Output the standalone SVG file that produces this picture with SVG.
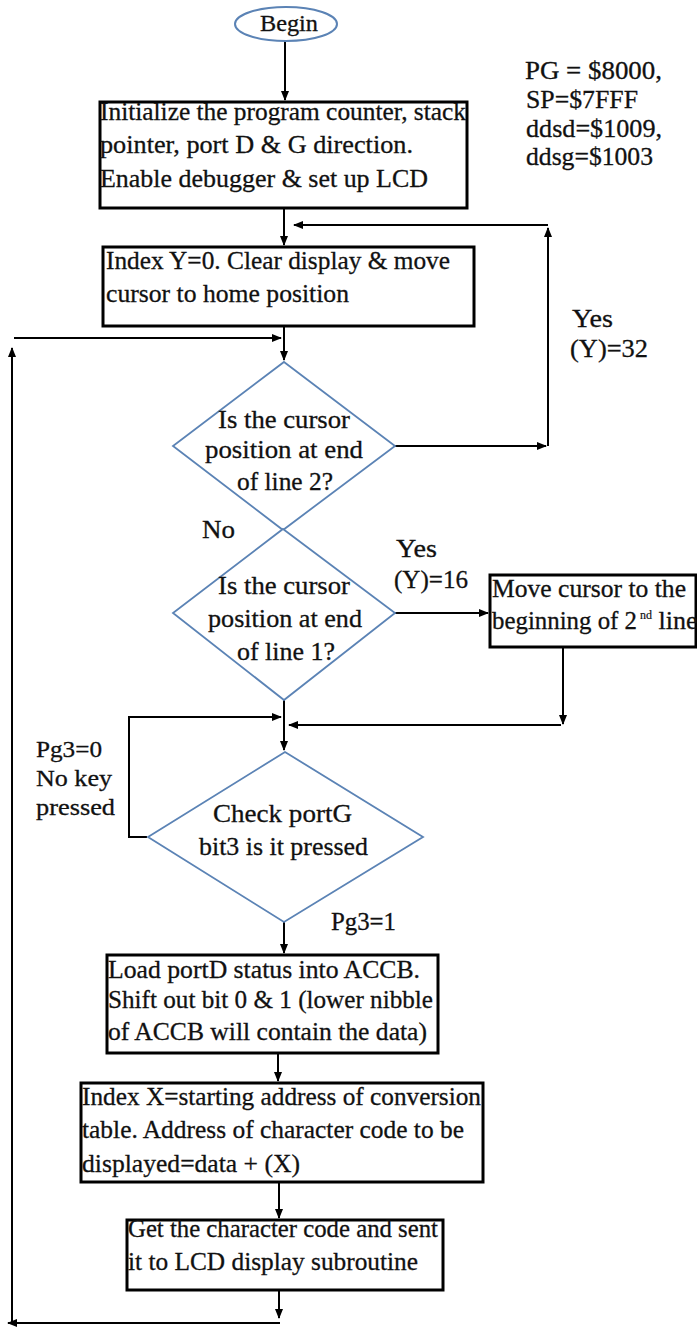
<svg xmlns="http://www.w3.org/2000/svg" width="697" height="1328" viewBox="0 0 697 1328">
<defs>
<marker id="ah" markerWidth="10" markerHeight="8" refX="9" refY="4" orient="auto" markerUnits="userSpaceOnUse"><path d="M0,0 L10,4 L0,8 Z" fill="#000"/></marker>
<style>
text { font-family: "Liberation Serif", "Times New Roman", serif; font-size: 26px; fill: #111; stroke: #111; stroke-width: 0.3; }
.box { fill: #fff; stroke: #000; stroke-width: 3; }
.dec { fill: #fff; stroke: #5b83b5; stroke-width: 1.8; }
.con { fill: none; stroke: #000; stroke-width: 2; }
.arr { marker-end: url(#ah); }
.lbl { font-size: 24px; }
.beg { font-size: 24px; }
.sup { font-size: 12px; stroke-width: 0.2; }
</style>
</defs>
<rect width="697" height="1328" fill="#fff"/>

<g id="connectors">
<path class="con arr" d="M285,41 V100"/>
<path class="con arr" d="M284,209 V245"/>
<path class="con arr" d="M284,326 V360"/>
<path class="con arr" d="M395,446 H546"/>
<path class="con arr" d="M548,446 V228"/>
<path class="con arr" d="M548,225 H294"/>
<path class="con arr" d="M14,338 H281"/>
<path class="con arr" d="M12,1323 V348"/>
<path class="con arr" d="M395,613 H488"/>
<path class="con arr" d="M563,647 V724"/>
<path class="con arr" d="M561,725 H289"/>
<path class="con arr" d="M147,837 H129 V717 H281"/>
<path class="con arr" d="M284,700 V750"/>
<path class="con arr" d="M284,922 V953"/>
<path class="con arr" d="M278,1053 V1081"/>
<path class="con arr" d="M279,1182 V1218"/>
<path class="con arr" d="M279,1290 V1318"/>
<path class="con arr" d="M280,1323 H8"/>
</g>

<g id="begin">
<ellipse cx="286" cy="24" rx="51" ry="17" fill="#fff" stroke="#5b83b5" stroke-width="2"/>
<text class="beg" x="260" y="31" textLength="58" lengthAdjust="spacingAndGlyphs">Begin</text>
</g>

<g id="init">
<rect class="box" x="100" y="102" width="367" height="106"/>
<text x="100" y="120" textLength="366" lengthAdjust="spacingAndGlyphs">Initialize the program counter, stack</text>
<text x="100" y="153" textLength="313" lengthAdjust="spacingAndGlyphs">pointer, port D &amp; G direction.</text>
<text x="100" y="187" textLength="328" lengthAdjust="spacingAndGlyphs">Enable debugger &amp; set up LCD</text>
</g>

<g id="note">
<text x="525" y="79" textLength="137" lengthAdjust="spacingAndGlyphs">PG = $8000,</text>
<text x="526" y="108" textLength="112" lengthAdjust="spacingAndGlyphs">SP=$7FFF</text>
<text x="526" y="137" textLength="136" lengthAdjust="spacingAndGlyphs">ddsd=$1009,</text>
<text x="526" y="165" textLength="127" lengthAdjust="spacingAndGlyphs">ddsg=$1003</text>
</g>

<g id="clear">
<rect class="box" x="103" y="247" width="371" height="79"/>
<text x="106" y="269" textLength="344" lengthAdjust="spacingAndGlyphs">Index  Y=0. Clear display &amp; move</text>
<text x="106" y="302" textLength="243" lengthAdjust="spacingAndGlyphs">cursor to home position</text>
</g>

<g id="dec-line2">
<polygon class="dec" points="284,362 395,446 283,530 173,446"/>
<text x="218" y="428" textLength="132" lengthAdjust="spacingAndGlyphs">Is the cursor</text>
<text x="205" y="458" textLength="158" lengthAdjust="spacingAndGlyphs">position at end</text>
<text x="237" y="490" textLength="96" lengthAdjust="spacingAndGlyphs">of line 2?</text>
</g>

<g id="dec-line1">
<polygon class="dec" points="283,529 395,613 284,700 173,613"/>
<text x="218" y="594" textLength="132" lengthAdjust="spacingAndGlyphs">Is the cursor</text>
<text x="208" y="627" textLength="154" lengthAdjust="spacingAndGlyphs">position at end</text>
<text x="237" y="660" textLength="98" lengthAdjust="spacingAndGlyphs">of line 1?</text>
</g>

<g id="move2">
<rect class="box" x="490" y="575" width="206" height="72"/>
<text x="492" y="597" textLength="194" lengthAdjust="spacingAndGlyphs">Move cursor to the</text>
<text x="492" y="629"><tspan textLength="145" lengthAdjust="spacingAndGlyphs">beginning of 2</tspan><tspan class="sup" dx="3" dy="-10">nd</tspan><tspan dy="10"> line</tspan></text>
</g>

<g id="check-pg3">
<polygon class="dec" points="285,752 423,837 284,922 148,837"/>
<text x="213" y="822" textLength="139" lengthAdjust="spacingAndGlyphs">Check portG</text>
<text x="199" y="855" textLength="169" lengthAdjust="spacingAndGlyphs">bit3 is it pressed</text>
</g>

<g id="load-portd">
<rect class="box" x="107" y="955" width="331" height="98"/>
<text x="108" y="978" textLength="312" lengthAdjust="spacingAndGlyphs">Load portD status into ACCB.</text>
<text x="108" y="1008" textLength="325" lengthAdjust="spacingAndGlyphs">Shift out bit 0 &amp; 1 (lower nibble</text>
<text x="108" y="1040" textLength="319" lengthAdjust="spacingAndGlyphs">of ACCB will contain the data)</text>
</g>

<g id="index-x">
<rect class="box" x="81" y="1083" width="402" height="99"/>
<text x="82" y="1105" textLength="399" lengthAdjust="spacingAndGlyphs">Index X=starting address of conversion</text>
<text x="82" y="1138" textLength="382" lengthAdjust="spacingAndGlyphs">table. Address of character code to be</text>
<text x="82" y="1172" textLength="218" lengthAdjust="spacingAndGlyphs">displayed=data + (X)</text>
</g>

<g id="get-char">
<rect class="box" x="127" y="1220" width="316" height="70"/>
<text x="128" y="1237" textLength="310" lengthAdjust="spacingAndGlyphs">Get the character code and sent</text>
<text x="128" y="1270" textLength="290" lengthAdjust="spacingAndGlyphs">it to LCD display subroutine</text>
</g>

<g id="labels">
<text x="572" y="327" textLength="41" lengthAdjust="spacingAndGlyphs">Yes</text>
<text x="570" y="357" textLength="78" lengthAdjust="spacingAndGlyphs">(Y)=32</text>
<text x="202" y="538" textLength="33" lengthAdjust="spacingAndGlyphs">No</text>
<text x="396" y="557" textLength="41" lengthAdjust="spacingAndGlyphs">Yes</text>
<text x="394" y="588" textLength="74" lengthAdjust="spacingAndGlyphs">(Y)=16</text>
<text class="lbl" x="36" y="757" textLength="66" lengthAdjust="spacingAndGlyphs">Pg3=0</text>
<text class="lbl" x="36" y="786" textLength="76" lengthAdjust="spacingAndGlyphs">No key</text>
<text class="lbl" x="36" y="815" textLength="79" lengthAdjust="spacingAndGlyphs">pressed</text>
<text x="331" y="930" textLength="65" lengthAdjust="spacingAndGlyphs">Pg3=1</text>
</g>
</svg>
